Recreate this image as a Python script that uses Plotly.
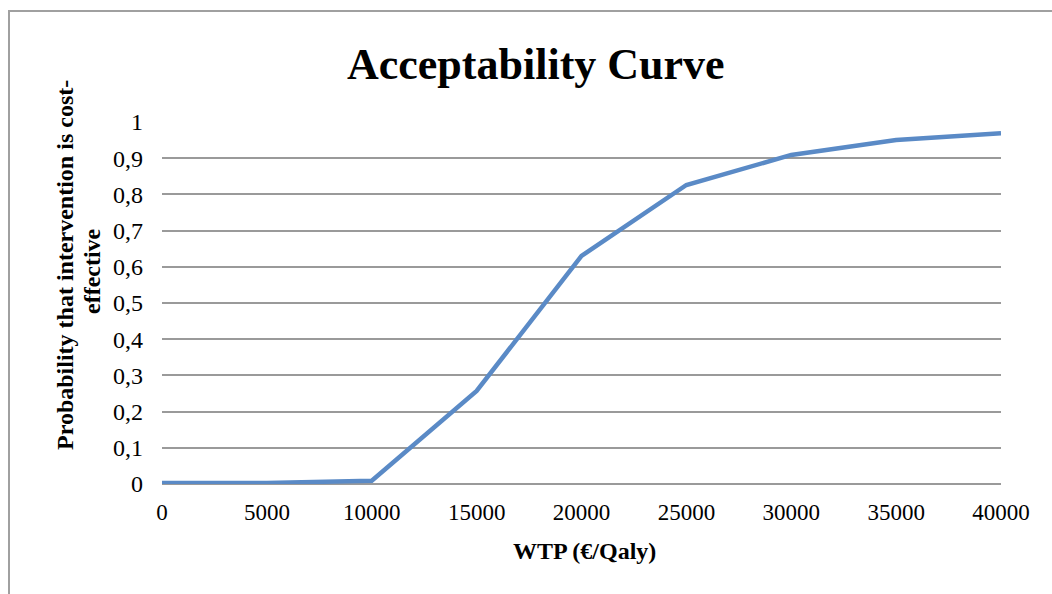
import plotly.graph_objects as go

wtp = [0, 5000, 10000, 15000, 20000, 25000, 30000, 35000, 40000]
prob = [0.003, 0.003, 0.009, 0.257, 0.63, 0.826, 0.909, 0.95, 0.969]

x_ticks = [0, 5000, 10000, 15000, 20000, 25000, 30000, 35000, 40000]
x_tick_text = ["0", "5000", "10000", "15000", "20000", "25000", "30000", "35000", "40000"]
y_ticks = [0, 0.1, 0.2, 0.3, 0.4, 0.5, 0.6, 0.7, 0.8, 0.9, 1]
y_tick_text = ["0", "0,1", "0,2", "0,3", "0,4", "0,5", "0,6", "0,7", "0,8", "0,9", "1"]

W, H = 1052, 594
L, R, T, B = 162, 51, 122, 110
pw, ph = W - L - R, H - T - B

def px_x(p):
    return (p - L) / pw

def px_y(p):
    return (H - B - p) / ph

serif = "Liberation Serif, Times New Roman, serif"

fig = go.Figure()
fig.add_trace(go.Scatter(
    x=wtp, y=prob, mode="lines",
    line=dict(color="#5A8AC6", width=4.5),
    hoverinfo="skip", showlegend=False,
))

fig.update_layout(
    width=W, height=H,
    margin=dict(l=L, r=R, t=T, b=B),
    paper_bgcolor="white", plot_bgcolor="white",
    font=dict(family=serif, color="black", size=23),
    xaxis=dict(
        range=[0, 40000], tickvals=x_ticks, ticktext=x_tick_text,
        showgrid=False, zeroline=False, showline=False, ticks="",
        ticklabelstandoff=12, tickfont=dict(size=23),
    ),
    yaxis=dict(
        range=[0, 1], tickvals=y_ticks, ticktext=y_tick_text,
        showgrid=True, gridcolor="#9a9a9a", gridwidth=1.5,
        zeroline=True, zerolinecolor="#9a9a9a", zerolinewidth=1.5,
        showline=False, ticks="", ticklabelstandoff=18, tickfont=dict(size=24),
    ),
    shapes=[dict(
        type="rect", xref="paper", yref="paper",
        x0=px_x(9), x1=px_x(1062), y0=px_y(600), y1=px_y(11),
        line=dict(color="#a0a0a0", width=2), fillcolor="rgba(0,0,0,0)", layer="below",
    )],
    annotations=[
        dict(text="<b>Acceptability Curve</b>", xref="paper", yref="paper",
             x=px_x(536), y=px_y(64), showarrow=False, xanchor="center", yanchor="middle",
             font=dict(size=44, family=serif)),
        dict(text="<b>WTP (€/Qaly)</b>", xref="paper", yref="paper",
             x=px_x(584), y=px_y(551), showarrow=False, xanchor="center", yanchor="middle",
             font=dict(size=24, family=serif)),
        dict(text="<b>Probability that intervention is cost-</b>", xref="paper", yref="paper",
             x=px_x(65), y=px_y(265), showarrow=False, xanchor="center", yanchor="middle",
             textangle=-90, font=dict(size=24, family=serif)),
        dict(text="<b>effective</b>", xref="paper", yref="paper",
             x=px_x(92), y=px_y(271), showarrow=False, xanchor="center", yanchor="middle",
             textangle=-90, font=dict(size=24, family=serif)),
    ],
)

fig.write_html("out.html")
